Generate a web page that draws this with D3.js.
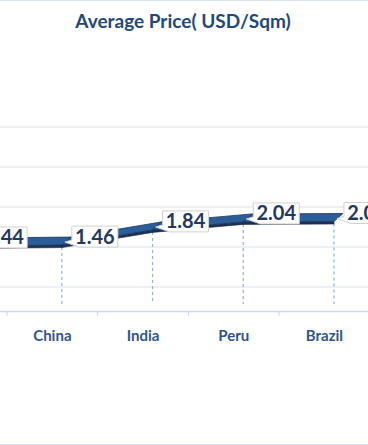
<!DOCTYPE html>
<html>
<head>
<meta charset="utf-8">
<script src="https://cdnjs.cloudflare.com/ajax/libs/d3/7.8.5/d3.min.js"></script>
<style>
  body { margin: 0; background: #fff; }
  svg { display: block; font-family: Lato, "Open Sans", sans-serif; }
</style>
</head>
<body>
<svg id="chart"></svg>
<script>
// data (first category is cropped off the left edge in the reference)
const categories = ['', 'China', 'India', 'Peru', 'Brazil'];
const prices = [1.44, 1.46, 1.84, 2.04, 2.05];
const priceLabels = ['1.44', '1.46', '1.84', '2.04', '2.05'];
const gridTicks = [0, 1, 2, 3, 4];

const width = 368, height = 445;
const svg = d3.select('#chart').attr('width', width).attr('height', height);

// scales
const x = d3.scaleBand().domain(categories).range([-83.7, 369.8]);
const y = d3.scaleLinear().domain([0, 4]).range([287, 127]);
const floorY = 311;

// 3d offsets
const front = { dx: 9.5, dy: 16.5 };
const depth = { dx: 9, dy: -8 };

// border
svg.append('rect')
  .attr('x', -5).attr('y', 0.5).attr('width', width + 10).attr('height', height - 1)
  .attr('fill', 'none').attr('stroke', '#dae3f3');

// title
svg.append('text')
  .attr('x', 183).attr('y', 28)
  .attr('text-anchor', 'middle')
  .attr('font-size', 19).attr('font-weight', 'bold')
  .attr('fill', '#1f497d')
  .text('Average Price( USD/Sqm)');

// gridlines
svg.append('g').selectAll('line')
  .data(gridTicks).enter().append('line')
  .attr('x1', 0).attr('x2', width)
  .attr('y1', d => y(d)).attr('y2', d => y(d))
  .attr('stroke', '#d9e2f3').attr('stroke-width', 1);

// floor axis
const xAxis = svg.append('g')
  .attr('transform', `translate(0,${floorY})`)
  .call(d3.axisBottom(x).tickSize(0).tickPadding(19));
xAxis.select('.domain').attr('stroke', '#c9d8ee').attr('stroke-width', 1.5);
xAxis.selectAll('text')
  .attr('font-size', 15).attr('font-weight', 'bold')
  .attr('fill', '#2f5590').attr('font-family', 'Lato, "Open Sans", sans-serif');

// band boundary ticks
const bounds = categories.map(c => x(c)).concat([x.range()[1]]);
svg.append('g').selectAll('line')
  .data(bounds).enter().append('line')
  .attr('x1', d => d).attr('x2', d => d)
  .attr('y1', floorY).attr('y2', floorY + 5)
  .attr('stroke', '#c9d8ee');

const pts = categories.map((c, i) => ({
  x: x(c) + x.bandwidth() / 2 + front.dx,
  y: y(prices[i]) + front.dy,
  label: priceLabels[i]
}));

// drop lines
svg.append('g').selectAll('line')
  .data(pts).enter().append('line')
  .attr('x1', d => d.x).attr('x2', d => d.x)
  .attr('y1', d => d.y + 2).attr('y2', 304)
  .attr('stroke', '#8eb0e3').attr('stroke-width', 1.2)
  .attr('stroke-dasharray', '3,3');

// ribbon segments
const ribbon = svg.append('g');
for (let i = 0; i < pts.length - 1; i++) {
  const a = pts[i], b = pts[i + 1];
  // front face
  ribbon.append('path')
    .attr('d', `M${a.x},${a.y}L${b.x},${b.y}L${b.x},${b.y + 2.5}L${a.x},${a.y + 2.5}Z`)
    .attr('fill', '#1b3357').attr('stroke', '#14243d').attr('stroke-width', 0.6);
  // top face
  ribbon.append('path')
    .attr('d', `M${a.x},${a.y}L${b.x},${b.y}L${b.x + depth.dx},${b.y + depth.dy}L${a.x + depth.dx},${a.y + depth.dy}Z`)
    .attr('fill', '#2c5d9b').attr('stroke', '#1b3357').attr('stroke-width', 0.8);
}

// data labels (callout boxes)
const boxW = 46, boxH = 21;
const lab = svg.append('g').selectAll('g')
  .data(pts).enter().append('g');
lab.append('path')
  .attr('d', d => {
    const l = d.x + 10, t = d.y - 19, r = l + boxW, btm = t + boxH;
    return `M${l},${t}L${r},${t}L${r},${btm}L${l + 7},${btm}L${d.x + 3},${d.y - 3}L${l},${btm - 7}Z`;
  })
  .attr('fill', '#fff').attr('stroke', '#d0d0d0').attr('stroke-width', 1);
lab.append('text')
  .attr('x', d => d.x + 10 + boxW / 2)
  .attr('y', d => d.y - 1.5)
  .attr('text-anchor', 'middle')
  .attr('font-size', 20).attr('font-weight', 'bold')
  .attr('fill', '#1f3864')
  .text(d => d.label);
</script>
</body>
</html>
